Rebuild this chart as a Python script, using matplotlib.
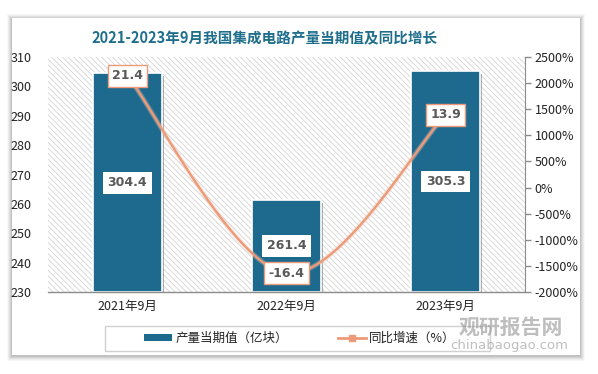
import matplotlib
matplotlib.use("Agg")
import matplotlib.pyplot as plt
import numpy as np
from matplotlib.patches import Rectangle
from matplotlib.lines import Line2D
from matplotlib.patches import Patch
import matplotlib.patheffects as pe
from matplotlib.ticker import FuncFormatter

plt.rcParams['font.family'] = ['Noto Sans CJK SC', 'DejaVu Sans']
plt.rcParams['hatch.linewidth'] = 0.6
plt.rcParams['hatch.color'] = '#D4D4D4'

title = "2021-2023年9月我国集成电路产量当期值及同比增长"
categories = ["2021年9月", "2022年9月", "2023年9月"]
output = [304.4, 261.4, 305.3]          # 亿块
yoy = [21.4, -16.4, 13.9]               # %
left_ticks = [230, 240, 250, 260, 270, 280, 290, 300, 310]
right_ticks = [-20, -15, -10, -5, 0, 5, 10, 15, 20, 25]
legend_labels = ["产量当期值（亿块）", "同比增速（%）"]

W, H = 598, 374
fig = plt.figure(figsize=(W / 100, H / 100), dpi=100)
fig.patch.set_facecolor('white')

def fx(px):
    return px / W

def fy(py):
    return 1 - py / H

# card with soft shadow
cx0, cy0, cx1, cy1 = 12, 18, 580, 355
for i, a in enumerate([0.03, 0.04, 0.05, 0.06, 0.08]):
    g = 5 - i
    fig.patches.append(Rectangle((fx(cx0 - g), fy(cy1 + g + 1)), fx(cx1 - cx0 + 2 * g), (cy1 - cy0 + 2 * g) / H,
                                 transform=fig.transFigure, facecolor='black', edgecolor='none',
                                 alpha=a, zorder=0))
fig.patches.append(Rectangle((fx(cx0), fy(cy1)), fx(cx1 - cx0), (cy1 - cy0) / H,
                             transform=fig.transFigure, facecolor='white', edgecolor='none', zorder=0.5))

ax = fig.add_axes([fx(48), fy(292), fx(525 - 48), (292 - 57) / H])
ax.set_facecolor('none')
ax.set_zorder(2)
ax.add_patch(Rectangle((0, 0), 1, 1, transform=ax.transAxes, facecolor='white',
                       edgecolor='#D4D4D4', hatch='\\\\\\\\\\\\', linewidth=0, zorder=0))

x = np.arange(len(categories))
bars = ax.bar(x, [v - 230 for v in output], bottom=230, width=0.43, color='#1D6A8E',
              edgecolor='white', linewidth=1.2, zorder=2)
for b in bars:
    b.set_path_effects([pe.SimplePatchShadow(offset=(2, -2), shadow_rgbFace='#555555', alpha=0.45),
                        pe.Normal()])

ax.set_xlim(-0.5, 2.5)
ax.set_ylim(230, 310)
ax.set_yticks(left_ticks)
ax.set_xticks(x)
ax.set_xticklabels(categories)
ax.tick_params(axis='y', length=0, labelsize=9, colors='#222222', pad=12)
ax.tick_params(axis='x', length=0, labelsize=9, colors='#222222', pad=6)
for s in ['left', 'top', 'right']:
    ax.spines[s].set_visible(False)
ax.spines['bottom'].set_color('#8C8C8C')
ax.spines['bottom'].set_linewidth(1)

for xi, v in zip(x, output):
    ax.text(xi, (230 + v) / 2, f"{v:.1f}", ha='center', va='center', fontsize=9,
            fontweight='bold', color='#595959', zorder=5, family='DejaVu Sans',
            bbox=dict(boxstyle='square,pad=0.35', facecolor='white', edgecolor='none'))

ax2 = ax.twinx()
ax2.set_zorder(3)
ax2.set_facecolor('none')
ax2.set_ylim(-20, 25)
ax2.set_yticks(right_ticks)
ax2.yaxis.set_major_formatter(FuncFormatter(lambda v, p: f"{int(round(v * 100))}%"))
ax2.tick_params(axis='y', length=4, width=1, labelsize=9, pad=3)
ax2.tick_params(axis='y', colors='#8C8C8C', labelcolor='#222222')
for s in ['left', 'top', 'bottom']:
    ax2.spines[s].set_visible(False)
ax2.spines['right'].set_color('#8C8C8C')

# smooth curve (Catmull-Rom style, like Excel smoothing)
px = np.array(x, dtype=float)
py = np.array(yoy, dtype=float)
ext_x = np.concatenate([[px[0]], px, [px[-1]]])
ext_y = np.concatenate([[py[0]], py, [py[-1]]])
cx, cy = [], []
for i in range(1, len(ext_x) - 2):
    p0 = np.array([ext_x[i - 1], ext_y[i - 1]])
    p1 = np.array([ext_x[i], ext_y[i]])
    p2 = np.array([ext_x[i + 1], ext_y[i + 1]])
    p3 = np.array([ext_x[i + 2], ext_y[i + 2]])
    c1 = p1 + (p2 - p0) / 6
    c2 = p2 - (p3 - p1) / 6
    t = np.linspace(0, 1, 60)[:, None]
    pts = (1 - t) ** 3 * p1 + 3 * (1 - t) ** 2 * t * c1 + 3 * (1 - t) * t ** 2 * c2 + t ** 3 * p2
    cx.extend(pts[:, 0])
    cy.extend(pts[:, 1])
ax2.plot(cx, cy, color='#EC9A78', linewidth=1.7, zorder=3, solid_capstyle='round',
         path_effects=[pe.SimpleLineShadow(offset=(0, 0), shadow_color='#F3C3AE', alpha=0.35, linewidth=3.5),
                       pe.Normal()])

for xi, v in zip(x, yoy):
    ax2.text(xi, v, f"{v:.1f}", ha='center', va='center', fontsize=9, fontweight='bold',
             color='#595959', zorder=6, family='DejaVu Sans',
             bbox=dict(boxstyle='square,pad=0.35', facecolor='white', edgecolor='#EC9A78', linewidth=1))

# title
fig.text(fx(265), fy(38), title, ha='center', va='center', fontsize=10.5, fontweight='bold',
         color='#1F6E8C')

# legend
fig.patches.append(Rectangle((fx(105), fy(351)), fx(385), 25 / H, transform=fig.transFigure,
                             facecolor='white', edgecolor='#D0D0D0', linewidth=1, zorder=1))
handles = [Patch(facecolor='#1D6A8E', edgecolor='none'),
           Line2D([0], [0], color='#EC9A78', linewidth=2, marker='s', markersize=5,
                  markerfacecolor='#EC9A78', markeredgecolor='#EC9A78')]
fig.legend(handles, legend_labels, loc='center', bbox_to_anchor=(fx(300), fy(338)), ncol=2,
           frameon=False, fontsize=9, handlelength=2.2, handleheight=0.5, columnspacing=4,
           handletextpad=0.3, labelcolor='#222222')

# watermark
fig.text(fx(511), fy(327), "观研报告网", ha='center', va='center', fontsize=15, fontweight='bold',
         color='#8A8A8A', alpha=0.55, zorder=10)
fig.text(fx(509), fy(346), "chinabaogao.com", ha='center', va='center', fontsize=9.5,
         color='#8A8A8A', alpha=0.55, zorder=10, family='DejaVu Sans')

fig.savefig("out.png", dpi=100)
